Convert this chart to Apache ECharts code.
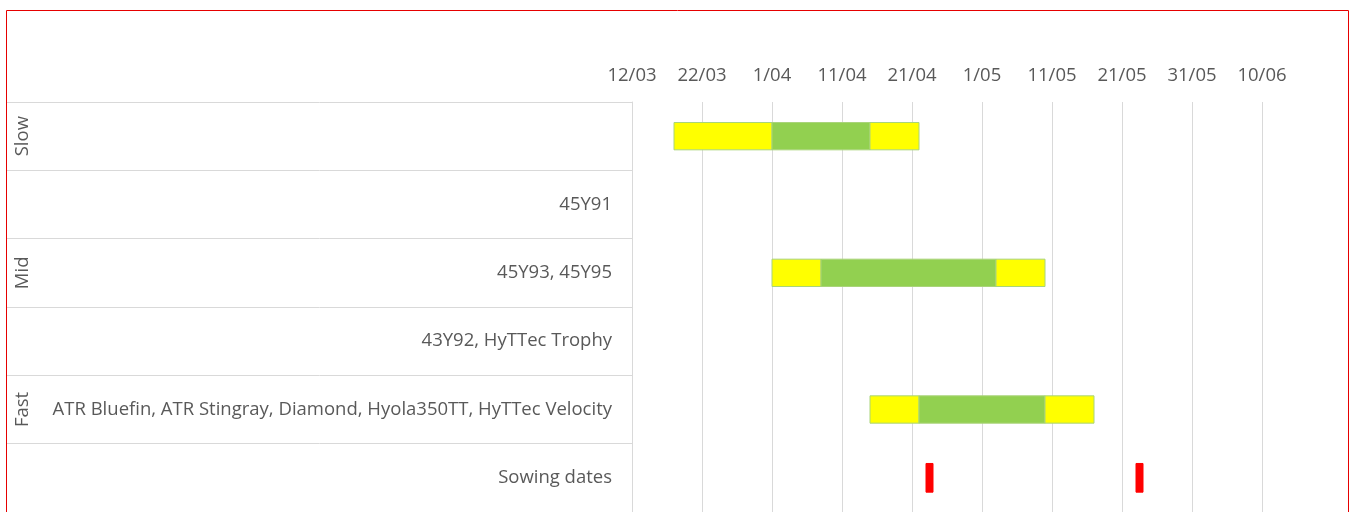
<!DOCTYPE html>
<html>
<head>
<meta charset="utf-8">
<script src="https://cdn.jsdelivr.net/npm/echarts@6/dist/echarts.min.js"></script>
<style>
  html, body { margin: 0; padding: 0; background: #fff; }
  #main { width: 1351px; height: 512px; }
</style>
</head>
<body>
<div id="main"></div>
<script>
// rows of the chart, top to bottom
var categories = ['', '45Y91', '45Y93, 45Y95', '43Y92, HyTTec Trophy',
    'ATR Bluefin, ATR Stingray, Diamond, Hyola350TT, HyTTec Velocity', 'Sowing dates'];
var groups = ['Slow', '', 'Mid', '', 'Fast', ''];

// sowing windows (dd/mm), one entry per row that has a bar
var windowRows = [0, 2, 4];
var earlyStart = ['18/03', '1/04', '15/04'];
var optimalStart = ['1/04', '8/04', '22/04'];
var optimalEnd = ['15/04', '3/05', '10/05'];
var lateEnd = ['22/04', '10/05', '17/05'];

// sowing date marks
var sowingRow = 5;
var sowingStart = ['23/04', '23/05'];
var sowingEnd = ['24/04', '24/05'];

// axis: days from 12/03, a tick every 10 days
var axisStart = '12/03';
var axisDays = 100;
var tickStep = 10;

var YEAR = 2020;
var DAY = 86400000;
function toMs(s) {
    var p = s.split('/');
    return Date.UTC(YEAR, +p[1] - 1, +p[0]);
}
var base = toMs(axisStart);
function dayOf(s) {
    return Math.round((toMs(s) - base) / DAY);
}
function fmtDay(v) {
    var d = new Date(base + v * DAY);
    var m = d.getUTCMonth() + 1;
    return d.getUTCDate() + '/' + (m < 10 ? '0' + m : m);
}

var data = [];
for (var i = 0; i < windowRows.length; i++) {
    data.push([dayOf(earlyStart[i]), dayOf(optimalStart[i]), windowRows[i], 'early']);
    data.push([dayOf(optimalStart[i]), dayOf(optimalEnd[i]), windowRows[i], 'optimal']);
    data.push([dayOf(optimalEnd[i]), dayOf(lateEnd[i]), windowRows[i], 'late']);
}
for (var j = 0; j < sowingStart.length; j++) {
    data.push([dayOf(sowingStart[j]), dayOf(sowingEnd[j]), sowingRow, 'sowing']);
}

var styles = {
    early: { fill: '#ffff00', stroke: '#a9d47a', h: 0.4 },
    optimal: { fill: '#92d050', stroke: '#a9d47a', h: 0.4 },
    late: { fill: '#ffff00', stroke: '#a9d47a', h: 0.4 },
    sowing: { fill: '#ff0000', stroke: '#ff0000', h: 0.42 }
};

var myChart = echarts.init(document.getElementById('main'));

var labelFont = 'Open Sans';
var option = {
    animation: false,
    backgroundColor: '#fff',
    grid: { left: 632, top: 102, width: 700, height: 412 },
    xAxis: {
        type: 'value',
        position: 'top',
        min: 0,
        max: axisDays,
        interval: tickStep,
        axisLine: { show: false },
        axisTick: { show: false },
        splitLine: { show: true, showMaxLine: false, lineStyle: { color: '#d9d9d9', width: 1 } },
        axisLabel: {
            margin: 17,
            color: '#595959',
            fontFamily: labelFont,
            fontSize: 18.5,
            showMaxLabel: false,
            formatter: fmtDay
        }
    },
    yAxis: [{
        type: 'category',
        data: categories,
        inverse: true,
        axisLine: { show: true, lineStyle: { color: '#d9d9d9', width: 1 } },
        axisTick: { show: true, length: 625, lineStyle: { color: '#d9d9d9', width: 1 } },
        splitLine: { show: false },
        axisLabel: {
            margin: 20,
            padding: [4, 0, 0, 0],
            color: '#595959',
            fontFamily: labelFont,
            fontSize: 18.5
        }
    }, {
        type: 'category',
        data: groups,
        inverse: true,
        position: 'left',
        offset: 600,
        axisLine: { show: false },
        axisTick: { show: false },
        axisLabel: {
            rotate: 90,
            margin: 0,
            interval: 0,
            color: '#595959',
            fontFamily: labelFont,
            fontSize: 18.5
        }
    }],
    series: [{
        type: 'custom',
        encode: { x: [0, 1], y: 2 },
        data: data,
        renderItem: function (params, api) {
            var row = api.value(2);
            var st = styles[data[params.dataIndex][3]];
            var s = api.coord([api.value(0), row]);
            var e = api.coord([api.value(1), row]);
            var h = api.size([0, 1])[1] * st.h;
            return {
                type: 'rect',
                shape: { x: s[0], y: s[1] - h / 2, width: e[0] - s[0], height: h },
                style: { fill: st.fill, stroke: st.stroke, lineWidth: 1 }
            };
        }
    }],
    graphic: [{
        type: 'rect',
        shape: { x: 6.5, y: 10.5, width: 1342, height: 520 },
        style: { fill: null, stroke: '#e60000', lineWidth: 1 },
        silent: true
    }]
};
myChart.setOption(option);
</script>
</body>
</html>
